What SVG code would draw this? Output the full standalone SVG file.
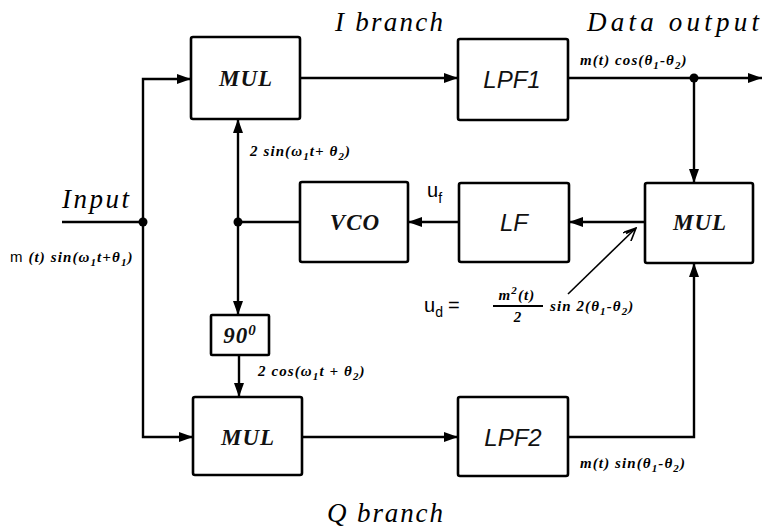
<svg xmlns="http://www.w3.org/2000/svg" width="763" height="529" viewBox="0 0 763 529">
<style>
.box{fill:#fff;stroke:#000;stroke-width:2.6}
.ln{fill:none;stroke:#000;stroke-width:2.4}
.big{font-family:"Liberation Serif",serif;font-style:italic;font-size:27px;fill:#000}
.blk{font-family:"Liberation Serif",serif;font-style:italic;font-weight:bold;font-size:23px;letter-spacing:1px;fill:#111;text-anchor:middle}
.sans{font-family:"Liberation Sans",sans-serif;font-style:italic;font-size:24px;fill:#111;text-anchor:middle}
.f{font-family:"Liberation Serif",serif;font-style:italic;font-weight:bold;font-size:15px;letter-spacing:1.1px;fill:#000}
.u{font-family:"Liberation Sans",sans-serif;font-size:20px;fill:#000}
</style>
<defs>
<marker id="ah" viewBox="0 0 14 10" refX="14" refY="5" markerWidth="14" markerHeight="10" markerUnits="userSpaceOnUse" orient="auto">
<path d="M0,0 L14,5 L0,10 z" fill="#000"/>
</marker>
<marker id="oh" viewBox="0 0 14 12" refX="13" refY="6" markerWidth="14" markerHeight="12" markerUnits="userSpaceOnUse" orient="auto">
<path d="M0,0 L13,6 L0,12 M2,3 L11,6" fill="none" stroke="#000" stroke-width="1.6"/>
</marker>
</defs>

<g id="connectors">
<path class="ln" d="M62 222 H143"/>
<path class="ln" d="M143 222 V79 H191" marker-end="url(#ah)"/>
<path class="ln" d="M143 222 V437 H193" marker-end="url(#ah)"/>
<path class="ln" d="M300 78 H458" marker-end="url(#ah)"/>
<path class="ln" d="M568 78 H762" marker-end="url(#ah)"/>
<path class="ln" d="M694 78 V183" marker-end="url(#ah)"/>
<path class="ln" d="M645 222 H569" marker-end="url(#ah)"/>
<path class="ln" d="M459 222 H408" marker-end="url(#ah)"/>
<path class="ln" d="M300 222 H238"/>
<path class="ln" d="M238 222 V119" marker-end="url(#ah)"/>
<path class="ln" d="M238 222 V315" marker-end="url(#ah)"/>
<path class="ln" d="M239 355 V397" marker-end="url(#ah)"/>
<path class="ln" d="M302 437 H458" marker-end="url(#ah)"/>
<path class="ln" d="M568 437 H694 V263" marker-end="url(#ah)"/>
<path d="M568 294 L636 228" fill="none" stroke="#000" stroke-width="1.6" marker-end="url(#oh)"/>
<circle cx="143" cy="222" r="4.5"/>
<circle cx="694" cy="78" r="4.5"/>
<circle cx="238" cy="222" r="4.5"/>
</g>

<g id="mul-i"><rect class="box" x="191" y="37" width="109" height="82" rx="2"/><text class="blk" x="246" y="86">MUL</text></g>
<g id="lpf1"><rect class="box" x="458" y="39" width="110" height="81" rx="2"/><text class="sans" x="512" y="88">LPF1</text></g>
<g id="vco"><rect class="box" x="300" y="182" width="108" height="80" rx="2"/><text class="blk" x="355" y="230">VCO</text></g>
<g id="lf"><rect class="box" x="459" y="183" width="110" height="79" rx="2"/><text class="sans" x="514" y="231">LF</text></g>
<g id="mul-r"><rect class="box" x="645" y="183" width="108" height="80" rx="2"/><text class="blk" x="700" y="230">MUL</text></g>
<g id="phase90"><rect class="box" x="211" y="315" width="58" height="40" rx="1"/><text class="blk" x="240" y="343">90<tspan dy="-8" font-size="15">0</tspan></text></g>
<g id="mul-q"><rect class="box" x="193" y="397" width="109" height="78" rx="2"/><text class="blk" x="248" y="445">MUL</text></g>
<g id="lpf2"><rect class="box" x="458" y="397" width="110" height="79" rx="2"/><text class="sans" x="513" y="446">LPF2</text></g>

<g id="labels">
<text class="big" x="335" y="31" textLength="108" lengthAdjust="spacing">I branch</text>
<text class="big" x="587" y="31" textLength="172" lengthAdjust="spacing">Data output</text>
<text class="big" x="327" y="522" textLength="116" lengthAdjust="spacing">Q branch</text>
<text class="big" x="62" y="208" textLength="67" lengthAdjust="spacing">Input</text>
<text class="f" x="10" y="262"><tspan font-weight="normal" font-style="normal" font-family="Liberation Sans,sans-serif">m</tspan> (t) sin(ω<tspan dy="4" font-size="11">1</tspan><tspan dy="-4">t+θ</tspan><tspan dy="4" font-size="11">1</tspan><tspan dy="-4">)</tspan></text>
<text class="f" x="250" y="156">2 sin(ω<tspan dy="4" font-size="11">1</tspan><tspan dy="-4">t+ θ</tspan><tspan dy="4" font-size="11">2</tspan><tspan dy="-4">)</tspan></text>
<text class="f" x="258" y="376">2 cos(ω<tspan dy="4" font-size="11">1</tspan><tspan dy="-4">t + θ</tspan><tspan dy="4" font-size="11">2</tspan><tspan dy="-4">)</tspan></text>
<text class="f" x="580" y="65">m(t) cos(θ<tspan dy="4" font-size="11">1</tspan><tspan dy="-4">-θ</tspan><tspan dy="4" font-size="11">2</tspan><tspan dy="-4">)</tspan></text>
<text class="f" x="580" y="468">m(t) sin(θ<tspan dy="4" font-size="11">1</tspan><tspan dy="-4">-θ</tspan><tspan dy="4" font-size="11">2</tspan><tspan dy="-4">)</tspan></text>
<text class="u" x="427" y="197">u<tspan dy="6" font-size="14">f</tspan></text>
<text class="u" x="424" y="312">u<tspan dy="5" font-size="14">d</tspan><tspan dy="-5" dx="5">=</tspan></text>
<text class="f" x="517" y="300" text-anchor="middle">m<tspan dy="-6" font-size="11">2</tspan><tspan dy="6">(t)</tspan></text>
<line x1="493" y1="306" x2="543" y2="306" stroke="#000" stroke-width="1.8"/>
<text class="f" x="518" y="322" text-anchor="middle">2</text>
<text class="f" x="550" y="311">sin 2(θ<tspan dy="4" font-size="11">1</tspan><tspan dy="-4">-θ</tspan><tspan dy="4" font-size="11">2</tspan><tspan dy="-4">)</tspan></text>
</g>
</svg>
